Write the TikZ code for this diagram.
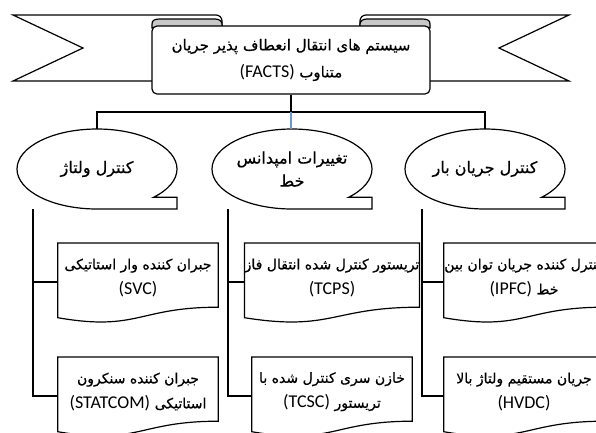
\documentclass[tikz,border=0pt]{standalone}
\usepackage{fontspec}
\usetikzlibrary{calc}
\TeXXeTstate=1
\newfontfamily\arfont[Script=Arabic,FakeBold=0.6]{DejaVu Sans}
\newfontfamily\latfont{Carlito}
\newcommand\fatxt[1]{{\arfont\beginR #1\endR}}
\newcommand\latxt[1]{{\latfont\fontsize{18}{25}\selectfont #1}}
\newcommand\pfont{\fontsize{14}{25}\selectfont}
\definecolor{connblue}{RGB}{110,150,205}
\definecolor{curlgrey}{RGB}{200,200,200}
\begin{document}
\begin{tikzpicture}[x=1pt,y=1pt,
  shp/.style={draw=black, line width=1.2pt, line join=miter},
  conn/.style={draw=black, line width=1.2pt},
  bconn/.style={draw=connblue, line width=1.2pt},
  docbox/.style={minimum width=160pt, minimum height=69pt, inner sep=0pt, align=center, font=\pfont, anchor=north},
  seqbox/.style={minimum width=160pt, minimum height=80pt, inner sep=0pt, align=center, font=\fontsize{16}{23}\selectfont},
  panelbox/.style={draw=black, line width=1.2pt, fill=white, rounded corners=5pt, minimum width=278pt, minimum height=68pt, inner sep=0pt, align=center, font=\fontsize{15}{27}\selectfont}]
\useasboundingbox (0,0) rectangle (596,-432);
\clip (0,0) rectangle (596,-432);
% ribbon tails
\draw[shp] (152,-81) -- (13,-81) -- (83,-48) -- (13,-15) -- (216,-15) arc[start angle=90,end angle=0,radius=6pt] -- (222,-27);
\draw[shp] (430,-81) -- (569,-81) -- (499,-48) -- (569,-15) -- (366,-15) arc[start angle=90,end angle=180,radius=6pt] -- (360,-27);
% curls
\draw[shp, fill=curlgrey] (152,-28) -- (152,-24) .. controls (152,-20) and (155,-19) .. (160,-19) -- (215,-19) .. controls (219,-19) and (222,-21) .. (222,-24) -- (222,-28) -- cycle;
\draw[shp, fill=curlgrey] (430,-28) -- (430,-24) .. controls (430,-20) and (427,-19) .. (422,-19) -- (367,-19) .. controls (363,-19) and (360,-21) .. (360,-24) -- (360,-28) -- cycle;
% main panel
\node[panelbox] (facts) at (291,-60) {\fatxt{سیستم های انتقال انعطاف پذیر جریان}\\\latxt{(FACTS)} \fatxt{متناوب}};
% category nodes
\node[seqbox] (vc) at (97,-169) {\fatxt{کنترل ولتاژ}};
\node[seqbox] (imp) at (292,-169) {\fatxt{تغییرات امپدانس}\\\fatxt{خط}};
\node[seqbox] (lf) at (485,-169) {\fatxt{کنترل جریان بار}};
\foreach \n in {vc,imp,lf}{
  \draw[shp] ($(\n.center)+(0,-40)$) arc[start angle=270,end angle=-45,x radius=80pt,y radius=40pt] -- ($(\n.center)+(80,-28.28)$) -- ($(\n.center)+(80,-40)$) -- cycle;
}
% device boxes
\node[docbox] (svc) at (138,-243) {\fatxt{جبران کننده وار استاتیکی}\\\latxt{(SVC)}};
\node[docbox] (statcom) at (138,-357) {\fatxt{جبران کننده سنکرون}\\\latxt{(STATCOM)} \fatxt{استاتیکی}};
\node[docbox] (tcps) at (332,-243) {\fatxt{تریستور کنترل شده انتقال فاز}\\\latxt{(TCPS)}};
\node[docbox] (tcsc) at (332,-357) {\fatxt{خازن سری کنترل شده با}\\\latxt{(TCSC)} \fatxt{تریستور}};
\node[docbox] (ipfc) at (524,-243) {\fatxt{کنترل کننده جریان توان بین}\\\latxt{(IPFC)} \fatxt{خط}};
\node[docbox] (hvdc) at (524,-357) {\fatxt{جریان مستقیم ولتاژ بالا}\\\latxt{(HVDC)}};
\foreach \n in {svc,statcom,tcps,tcsc,ipfc,hvdc}{
  \draw[shp] (\n.north west) -- (\n.north east) -- ($(\n.north east)+(0,-64.2)$) .. controls ($(\n.north)+(0,-64.2)$) and ($(\n.north)+(0,-88.6)$) .. ($(\n.north west)+(0,-74.7)$) -- cycle;
  \coordinate (\n-in) at ($(\n.north west)+(0,-39)$);
}
% connectors
\coordinate (hub) at (291,-112);
\draw[conn] (facts.south) -- (hub);
\draw[conn] (hub) -| (vc.north);
\draw[conn] (hub) -| (lf.north);
\draw[bconn] (hub) -- (hub |- imp.north);
\coordinate (vcbus) at (33,-209);
\coordinate (impbus) at (228,-209);
\coordinate (lfbus) at (422,-209);
\draw[conn] (vcbus) |- (statcom-in);
\draw[conn] (vcbus |- svc-in) -- (svc-in);
\draw[conn] (impbus) |- (tcsc-in);
\draw[conn] (impbus |- tcps-in) -- (tcps-in);
\draw[conn] (lfbus) |- (hvdc-in);
\draw[conn] (lfbus |- ipfc-in) -- (ipfc-in);
\end{tikzpicture}
\end{document}
